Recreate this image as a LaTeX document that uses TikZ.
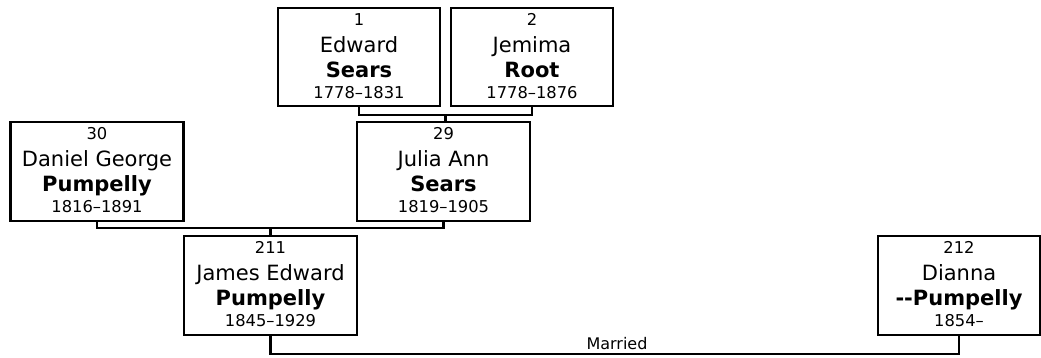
\documentclass[tikz,border=0pt]{standalone}
\usepackage{fontspec}
\setmainfont{DejaVu Sans}[Ligatures=TeXOff]
\usetikzlibrary{positioning}
\newcommand{\pno}[1]{{\fontsize{16.3}{19}\selectfont #1}}

\begin{document}
\begin{tikzpicture}[
    x=1pt, y=-1pt,
    line width=2.5pt,
    every node/.style={align=center, inner sep=0pt},
    person/.style={draw, minimum width=162pt, minimum height=98pt},
    wide/.style={person, minimum width=173pt, minimum height=99pt},
    info/.style={font=\fontsize{21}{25}\selectfont},
    tag/.style={font=\fontsize{16}{19}\selectfont, above=3pt}
]
    \useasboundingbox (0,0) rectangle (1041,357);

    % Grandparents
    \node[person] (p1) at (359,57) {};
    \node[info, below=5.5pt of p1.north] (t1) {\pno{1}\\[2pt]Edward\\\textbf{Sears}\\[-4pt]\pno{1778–1831}};
    \node[person] (p2) at (532,57) {};
    \node[info, below=5.5pt of p2.north] (t2) {\pno{2}\\[2pt]Jemima\\\textbf{Root}\\[-4pt]\pno{1778–1876}};

    % Parents
    \node[wide] (p30) at (97,171.5) {};
    \node[info, below=5.5pt of p30.north] (t30) {\pno{30}\\[2pt]Daniel George\\\textbf{Pumpelly}\\[-4pt]\pno{1816–1891}};
    \node[wide] (p29) at (443.5,171.5) {};
    \node[info, below=5.5pt of p29.north] (t29) {\pno{29}\\[2pt]Julia Ann\\\textbf{Sears}\\[-4pt]\pno{1819–1905}};

    % Couple
    \node[wide] (p211) at (270.5,285.5) {};
    \node[info, below=5.5pt of p211.north] (t211) {\pno{211}\\[2pt]James Edward\\\textbf{Pumpelly}\\[-4pt]\pno{1845–1929}};
    \node[person, minimum height=99pt] (p212) at (959,285.5) {};
    \node[info, below=5.5pt of p212.north] (t212) {\pno{212}\\[2pt]Dianna\\\textbf{--Pumpelly}\\[-4pt]\pno{1854–}};

    % Connections
    \coordinate (u1) at (445.5,115);
    \coordinate (u2) at (270.5,228);
    \coordinate (m) at (617,354);
    \draw (p1.south) |- (u1) -| (p2.south);
    \draw (u1) -- (u1 |- p29.north);
    \draw (p30.south) |- (u2) -| (p29.south);
    \draw (u2) -- (u2 |- p211.north);
    \draw (p211.south) |- (m) -| (p212.south);
    \node[tag] (lbl) at (m) {Married};
\end{tikzpicture}
\end{document}
